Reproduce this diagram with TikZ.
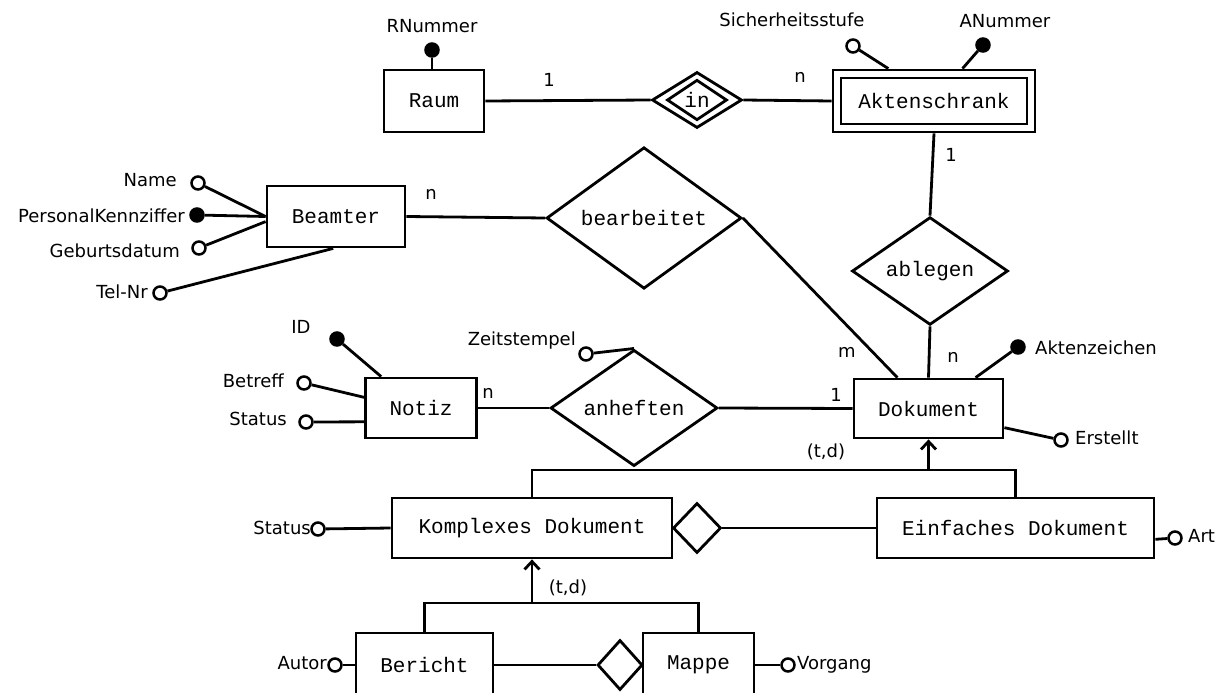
\documentclass[tikz,border=0pt]{standalone}
\usepackage{fontspec}
\usetikzlibrary{shapes.geometric,arrows.meta,calc}
\newfontfamily\monof{Liberation Mono}
\newfontfamily\sansf{DejaVu Sans}
\newcommand\monotxt{\monof\fontsize{21}{24}\selectfont}
\newcommand\sanstxt{\sansf\fontsize{18}{21}\selectfont}
\tikzset{
  ent/.style={draw, line width=2.8pt, inner sep=0pt, font=\monotxt, fill=white},
  rel/.style={diamond, draw, line width=2.8pt, inner sep=0pt, font=\monotxt, fill=white},
  att/.style={circle, draw, line width=2.5pt, minimum size=13pt, inner sep=0pt, fill=white},
  keyatt/.style={att, fill=black},
  lbl/.style={font=\sanstxt, inner sep=0pt},
  conn/.style={line width=2.8pt},
  isaarrow/.style={line width=2.8pt, -{Straight Barb[length=8pt,width=15pt,line width=2.8pt]}}
}
\begin{document}
\begin{tikzpicture}[x=1pt,y=-1pt]
\useasboundingbox (0,0) rectangle (1231,693);
\fill[white] (0,0) rectangle (1231,693);

% entities
\node[ent, minimum width=100pt, minimum height=62pt] (raum) at (434,101) {Raum};
\node[ent, minimum width=202pt, minimum height=62pt] (akO) at (934,101) {};
\node[ent, minimum width=186pt, minimum height=46pt] (ak) at (934,101) {Aktenschrank};
\node[ent, minimum width=138pt, minimum height=61pt] (beamter) at (336,216.5) {Beamter};
\node[ent, minimum width=111pt, minimum height=60pt] (notiz) at (421,408) {Notiz};
\node[ent, minimum width=149pt, minimum height=59pt] (dok) at (928.5,408.5) {Dokument};
\node[ent, minimum width=280pt, minimum height=60pt] (komp) at (532,528) {Komplexes Dokument};
\node[ent, minimum width=277pt, minimum height=60pt] (einf) at (1015.5,528) {Einfaches Dokument};
\node[ent, minimum width=137pt, minimum height=64pt] (bericht) at (424.5,665) {Bericht};
\node[ent, minimum width=111pt, minimum height=64pt] (mappe) at (698.5,665) {Mappe};

% relationships
\node[rel, minimum width=90pt, minimum height=56pt] (inO) at (697,100) {};
\node[rel, minimum width=60pt, minimum height=37pt] (in) at (697,100) {in};
\node[rel, minimum width=195pt, minimum height=116pt] (bearb) at (644,218) {bearbeitet};
\node[rel, minimum width=156pt, minimum height=92pt] (ablegen) at (930,271) {ablegen};
\node[rel, minimum width=167pt, minimum height=100pt] (anheften) at (634,408) {anheften};
\node[rel, minimum width=48pt, minimum height=50pt] (d1) at (697,528) {};
\node[rel, minimum width=45pt, minimum height=50pt] (d2) at (620,665) {};

% attributes
\node[keyatt] (rnum) at (432,50) {};
\node[lbl] (rnumL) at (432,26) {RNummer};
\node[att] (sich) at (853,46) {};
\node[lbl] (sichL) at (792,20) {Sicherheitsstufe};
\node[keyatt] (anum) at (983,45) {};
\node[lbl] (anumL) at (1005,21) {ANummer};

\node[att] (name) at (198,183) {};
\node[lbl, anchor=east] (nameL) at (177,180) {Name};
\node[keyatt] (pk) at (197,215) {};
\node[lbl, anchor=east] (pkL) at (185,216) {PersonalKennziffer};
\node[att] (geb) at (199,248) {};
\node[lbl, anchor=east] (gebL) at (180,251) {Geburtsdatum};
\node[att] (tel) at (160,293) {};
\node[lbl, anchor=east] (telL) at (148,292) {Tel-Nr};

\node[keyatt] (id) at (337,339) {};
\node[lbl] (idL) at (301,327) {ID};
\node[att] (betr) at (304,383) {};
\node[lbl, anchor=east] (betrL) at (284,381) {Betreff};
\node[att] (stat) at (306,422) {};
\node[lbl, anchor=east] (statL) at (287,419) {Status};
\node[att] (zeit) at (586,354) {};
\node[lbl, anchor=east] (zeitL) at (576,341) {Zeitstempel};

\node[keyatt] (akz) at (1018,347) {};
\node[lbl, anchor=west] (akzL) at (1035,348) {Aktenzeichen};
\node[att] (erst) at (1061,440) {};
\node[lbl, anchor=west] (erstL) at (1075,438) {Erstellt};

\node[att] (stat2) at (318,529) {};
\node[lbl, anchor=east] (stat2L) at (311,528) {Status};
\node[att] (art) at (1175,538) {};
\node[lbl, anchor=west] (artL) at (1188,536) {Art};
\node[att] (autor) at (335,665) {};
\node[lbl, anchor=east] (autorL) at (327,663) {Autor};
\node[att] (vorg) at (788,665) {};
\node[lbl, anchor=west] (vorgL) at (797,665) {Vorgang};

% cardinalities
\node[lbl] (c1) at (549,80) {1};
\node[lbl] (c2) at (800,77) {n};
\node[lbl] (c3) at (951,155) {1};
\node[lbl] (c4) at (431,194) {n};
\node[lbl] (c5) at (847,352) {m};
\node[lbl] (c6) at (953,357) {n};
\node[lbl] (c7) at (488,393) {n};
\node[lbl] (c8) at (836,395) {1};
\node[lbl] (td1) at (826,452) {(t,d)};
\node[lbl] (td2) at (568,588) {(t,d)};

% relationship connectors
\draw[conn] (raum.east) -- (inO.west);
\draw[conn] (inO.east) -- (akO.west);
\draw[conn] (akO.south) -- (ablegen.north);
\draw[conn] (ablegen.south) -- (dok.north);
\draw[conn] (beamter.east) -- (bearb.west);
\draw[conn] (bearb.east) -- ($(dok.north west)!0.295!(dok.north east)$);
\draw[conn] (notiz.east) -- (anheften.west);
\draw[conn] (anheften.east) -- (dok.west);
\draw[conn] (d1.east) -- (einf.west);
\draw[conn] (bericht.east) -- (d2.west);

% attribute connectors
\draw[conn] (rnum.south) -- (rnum |- raum.north);
\draw[conn] (sich) -- ($(akO.north west)!0.277!(akO.north east)$);
\draw[conn] (anum) -- ($(akO.north west)!0.639!(akO.north east)$);
\draw[conn] (name) -- (beamter.west);
\draw[conn] (pk) -- (beamter.west);
\draw[conn] (geb) -- ($(beamter.north west)!0.58!(beamter.south west)$);
\draw[conn] (tel) -- ($(beamter.south west)!0.48!(beamter.south east)$);
\draw[conn] (id) -- ($(notiz.north west)!0.15!(notiz.north east)$);
\draw[conn] (betr) -- ($(notiz.north west)!0.33!(notiz.south west)$);
\draw[conn] (stat) -- ($(notiz.north west)!0.72!(notiz.south west)$);
\draw[conn] (zeit) -- (anheften.north);
\draw[conn] (akz) -- ($(dok.north west)!0.81!(dok.north east)$);
\draw[conn] (erst) -- ($(dok.north east)!0.81!(dok.south east)$);
\draw[conn] (stat2) -- (komp.west);
\draw[conn] (art) -- ($(einf.north east)!0.68!(einf.south east)$);
\draw[conn] (autor) -- (bericht.west);
\draw[conn] (vorg) -- (mappe.east);

% generalisations
\coordinate (isa1) at (dok.south |- 0,470);
\draw[conn] (komp.north) |- (isa1) -| (einf.north);
\draw[isaarrow] (isa1) -- (dok.south);
\coordinate (isa2) at (komp.south |- 0,603);
\draw[conn] (bericht.north) |- (isa2) -| (mappe.north);
\draw[isaarrow] (isa2) -- (komp.south);
\end{tikzpicture}
\end{document}
